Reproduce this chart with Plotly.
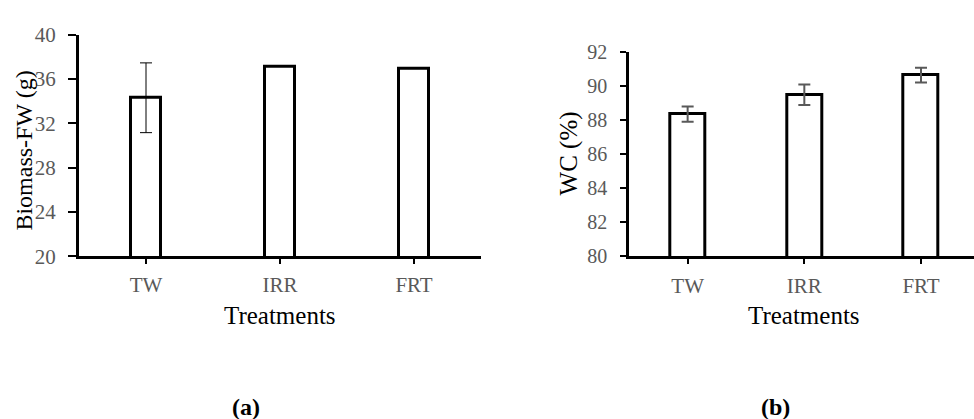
import plotly.graph_objects as go

# ---- data ----
categories = ["TW", "IRR", "FRT"]
biomass_fw = [34.3, 37.13, 36.94]
biomass_err = [3.15, 0.0, 0.0]
wc = [88.35, 89.49, 90.64]
wc_err = [0.45, 0.6, 0.43]
left_ticks = [20, 24, 28, 32, 36, 40]
right_ticks = [80, 82, 84, 86, 88, 90, 92]

W, H = 974, 419
SERIF = "Liberation Serif, Times New Roman, serif"
TICKGRAY = "#595959"

fig = go.Figure()

fig.add_trace(go.Bar(
    x=categories, y=biomass_fw, width=0.225,
    marker=dict(color="white", line=dict(color="black", width=3)),
    error_y=dict(type="data", array=biomass_err, visible=True,
                 color="black", thickness=1, width=6),
    xaxis="x", yaxis="y", showlegend=False,
))
fig.add_trace(go.Bar(
    x=categories, y=wc, width=0.30,
    marker=dict(color="white", line=dict(color="black", width=3)),
    error_y=dict(type="data", array=wc_err, visible=True,
                 color=TICKGRAY, thickness=2, width=6),
    xaxis="x2", yaxis="y2", showlegend=False,
))

def px_x(p):
    return p / W

def px_y(p):
    return (H - p) / H

common_x = dict(type="category", showline=True, linecolor="black", linewidth=3,
                ticks="outside", ticklen=5, tickwidth=2, tickcolor="black",
                tickfont=dict(family=SERIF, size=21, color=TICKGRAY),
                showgrid=False, zeroline=False, fixedrange=True)
common_y = dict(showline=True, linecolor="black", linewidth=3,
                ticks="outside", tickwidth=2, tickcolor="black",
                showgrid=False, zeroline=False, fixedrange=True)

fig.update_layout(
    width=W, height=H,
    margin=dict(l=0, r=0, t=0, b=0),
    paper_bgcolor="white", plot_bgcolor="white",
    bargap=0,
    xaxis=dict(domain=[px_x(79), px_x(481)], range=[-0.5, 2.5],
               anchor="y", ticklabelstandoff=3, **common_x),
    yaxis=dict(domain=[px_y(259), px_y(24)], range=[20, 40],
               tickvals=left_ticks, ticklen=8, ticklabelstandoff=8,
               tickfont=dict(family=SERIF, size=21, color=TICKGRAY),
               anchor="x", **common_y),
    xaxis2=dict(domain=[px_x(629.3), 1.0], range=[-0.5, 2.454],
                anchor="y2", ticklabelstandoff=3, **common_x),
    yaxis2=dict(domain=[px_y(259.3), px_y(42.3)], range=[80, 92],
                tickvals=right_ticks, ticklen=6, ticklabelstandoff=9,
                tickfont=dict(family=SERIF, size=20, color=TICKGRAY),
                anchor="x2", **common_y),
)

ann = [
    dict(text="Treatments", x=px_x(280), y=px_y(322), size=25, angle=0, ya="middle"),
    dict(text="Treatments", x=px_x(804), y=px_y(322), size=25, angle=0, ya="middle"),
    dict(text="Biomass-FW (g)", x=px_x(24), y=px_y(147), size=24, angle=-90, ya="middle"),
    dict(text="WC (%)", x=px_x(569), y=px_y(150), size=25, angle=-90, ya="middle"),
    dict(text="<b>(a)</b>", x=px_x(246), y=px_y(403), size=24, angle=0, ya="top"),
    dict(text="<b>(b)</b>", x=px_x(775), y=px_y(403), size=24, angle=0, ya="top"),
]
for a in ann:
    fig.add_annotation(text=a["text"], x=a["x"], y=a["y"], xref="paper", yref="paper",
                       xanchor="center", yanchor=a["ya"], showarrow=False,
                       textangle=a["angle"],
                       font=dict(family=SERIF, size=a["size"], color="black"))

fig.write_html("out.html")
